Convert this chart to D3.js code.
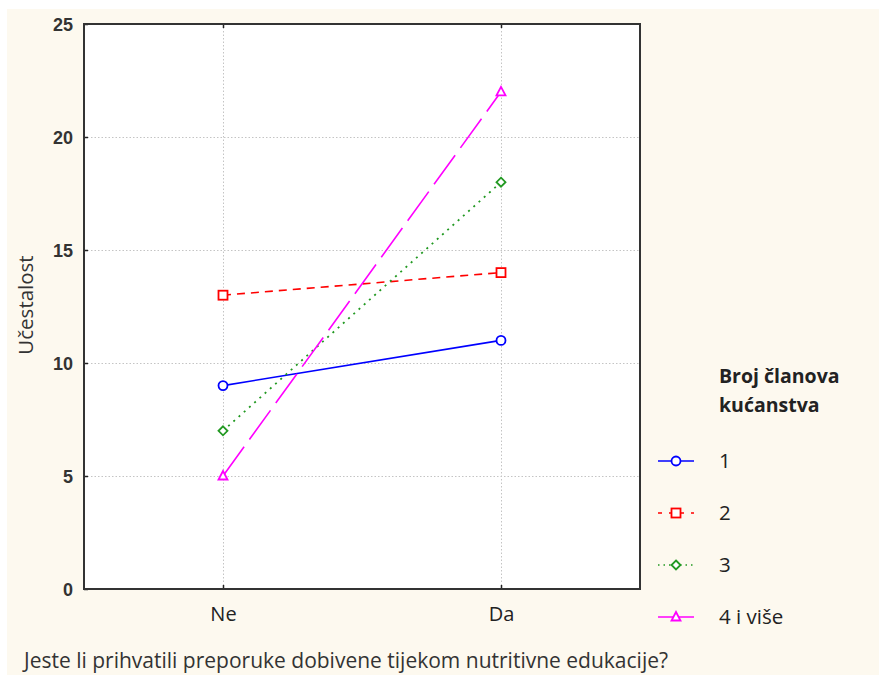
<!DOCTYPE html>
<html><head><meta charset="utf-8">
<script src="https://cdn.jsdelivr.net/npm/d3@7"></script>
<style>html,body{margin:0;padding:0;background:#fff;}</style>
</head><body>
<svg id="chart" width="879" height="675"></svg>
<script>
const categories = ["Ne", "Da"];
const seriesNames = ["1", "2", "3", "4 i više"];
const series1 = [9, 11];
const series2 = [13, 14];
const series3 = [7, 18];
const series4 = [5, 22];
const yTicks = [0, 5, 10, 15, 20, 25];
const legendTitle = ["Broj članova", "kućanstva"];
const yTitle = "Učestalost";
const xTitle = "Jeste li prihvatili preporuke dobivene tijekom nutritivne edukacije?";

const seriesData = [series1, series2, series3, series4];
const colors = ["#0000ff", "#ff0000", "#229922", "#ff00ff"];
const dashes = [null, "8,6", "2,5", "36,9"];
const markers = ["circle", "square", "diamond", "triangle"];
const FONT = "Open Sans, sans-serif";

const svg = d3.select("#chart");
svg.append("rect").attr("x", 7).attr("y", 9).attr("width", 872).attr("height", 666).attr("fill", "#fdf9ef");

const L = 84, R = 640, T = 24, B = 589;
const x = d3.scalePoint().domain(categories).range([L, R]).padding(0.5);
const y = d3.scaleLinear().domain([0, 25]).range([B, T]);

svg.append("rect").attr("x", L).attr("y", T).attr("width", R - L).attr("height", B - T).attr("fill", "#fff");

// grid
const grid = svg.append("g").attr("stroke", "#c4c4c4").attr("stroke-width", 1).attr("stroke-dasharray", "1.5,2");
yTicks.filter(t => t > 0 && t < 25).forEach(t => {
  grid.append("line").attr("x1", L).attr("x2", R).attr("y1", Math.round(y(t)) + 0.5).attr("y2", Math.round(y(t)) + 0.5);
});
categories.forEach(c => {
  grid.append("line").attr("x1", Math.round(x(c)) + 0.5).attr("x2", Math.round(x(c)) + 0.5).attr("y1", T).attr("y2", B);
});

// axes
const yAxis = d3.axisLeft(y).tickValues(yTicks).tickSize(-4).tickPadding(11);
const gy = svg.append("g").attr("transform", `translate(${L},0)`).call(yAxis);
gy.select(".domain").remove();
gy.selectAll(".tick line").attr("stroke", "#222").attr("stroke-width", 1.5);
gy.selectAll(".tick text").style("font-family", "Liberation Sans, Arial, sans-serif").style("font-size", "18px")
  .style("font-weight", "bold").attr("fill", "#333").attr("dy", "0.35em");

const xAxis = d3.axisBottom(x).tickSize(-4).tickPadding(18);
const gx = svg.append("g").attr("transform", `translate(0,${B})`).call(xAxis);
gx.select(".domain").remove();
gx.selectAll(".tick line").attr("stroke", "#222").attr("stroke-width", 1.5);
gx.selectAll(".tick text").style("font-family", FONT).style("font-size", "20px").attr("fill", "#222");

const xTop = d3.axisTop(x).tickSize(-4).tickFormat("");
const gxt = svg.append("g").attr("transform", `translate(0,${T})`).call(xTop);
gxt.select(".domain").remove();
gxt.selectAll(".tick line").attr("stroke", "#222").attr("stroke-width", 1.5);

// frame
svg.append("rect").attr("x", L).attr("y", T).attr("width", R - L).attr("height", B - T)
  .attr("fill", "none").attr("stroke", "#333").attr("stroke-width", 2);

function drawMarker(g, type, cx, cy, color) {
  let m;
  if (type === "circle") m = g.append("circle").attr("cx", cx).attr("cy", cy).attr("r", 4.5);
  else if (type === "square") m = g.append("rect").attr("x", cx - 4.5).attr("y", cy - 4.5).attr("width", 9).attr("height", 9);
  else if (type === "diamond") m = g.append("path").attr("d", `M${cx},${cy-4.5}L${cx+4.5},${cy}L${cx},${cy+4.5}L${cx-4.5},${cy}Z`);
  else m = g.append("path").attr("d", `M${cx},${cy-5}L${cx+4.5},${cy+3.5}L${cx-4.5},${cy+3.5}Z`);
  m.attr("fill", "#fff").attr("stroke", color).attr("stroke-width", 1.8);
}

const line = d3.line().x((d, i) => x(categories[i])).y(d => y(d));
seriesData.forEach((s, k) => {
  const g = svg.append("g");
  g.append("path").attr("d", line(s)).attr("fill", "none").attr("stroke", colors[k])
    .attr("stroke-width", k === 2 ? 1.8 : 1.6).attr("stroke-dasharray", dashes[k]);
  s.forEach((v, i) => drawMarker(g, markers[k], x(categories[i]), y(v), colors[k]));
});

// titles
svg.append("text").attr("transform", `translate(33,305) rotate(-90)`).attr("text-anchor", "middle")
  .style("font-family", FONT).style("font-size", "20.5px").attr("fill", "#333").text(yTitle);
svg.append("text").attr("x", 24).attr("y", 668).style("font-family", FONT)
  .style("font-size", "21px").attr("fill", "#333").text(xTitle);

// legend
const lg = svg.append("g");
legendTitle.forEach((t, i) => {
  lg.append("text").attr("x", 719).attr("y", 383 + i * 29).style("font-family", FONT)
    .style("font-size", "19.5px").style("font-weight", "bold").attr("fill", "#222").text(t);
});
const legY = [461, 513, 565, 617];
seriesNames.forEach((n, k) => {
  const yy = legY[k];
  lg.append("line").attr("x1", 658).attr("x2", 694).attr("y1", yy).attr("y2", yy)
    .attr("stroke", colors[k]).attr("stroke-width", 1.5).attr("stroke-dasharray", k === 1 ? "4,7" : k === 2 ? "1.5,4" : null);
  drawMarker(lg, markers[k], 676, yy, colors[k]);
  lg.append("text").attr("x", 719).attr("y", yy + 7).style("font-family", FONT)
    .style("font-size", "20.5px").attr("fill", "#222").text(n);
});
</script>
</body></html>
